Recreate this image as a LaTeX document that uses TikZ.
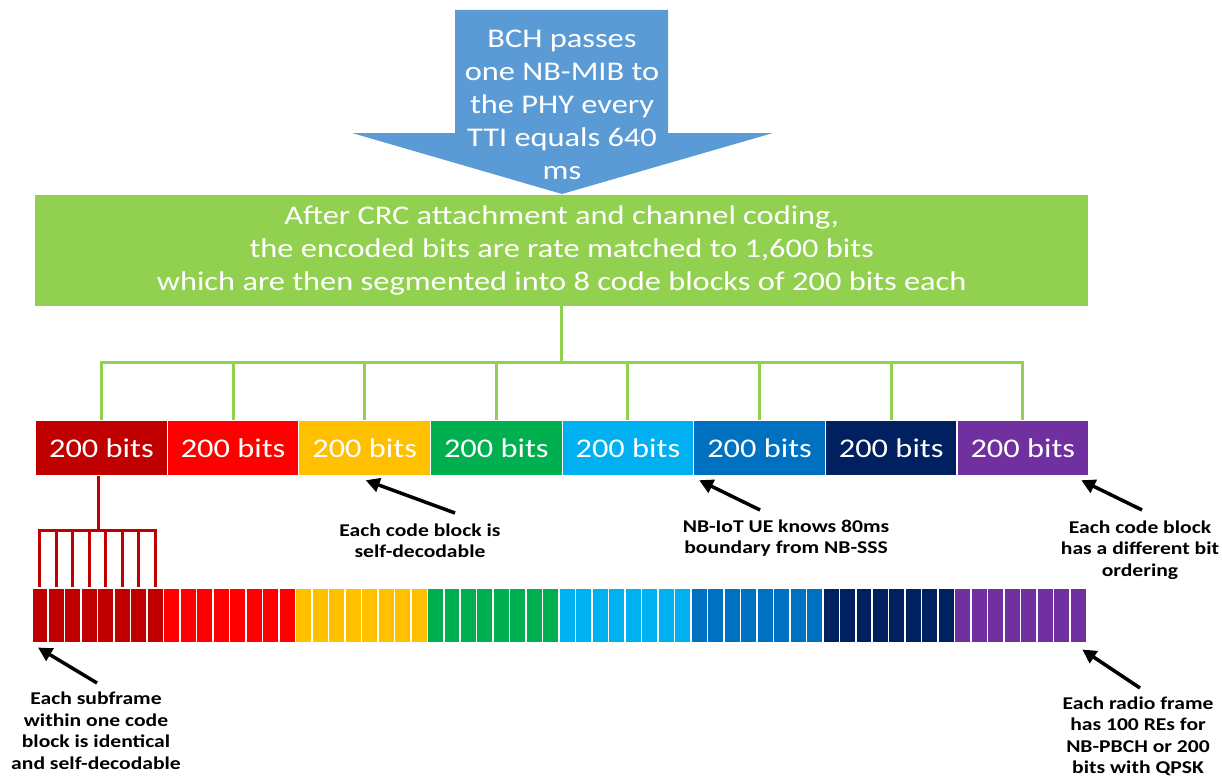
\documentclass[tikz,border=0pt]{standalone}
\usepackage{fontspec}
\setmainfont{Carlito}
\newfontfamily\boxfont{Carlito}[FakeStretch=1.2]
\newfontfamily\notefont{Carlito}[FakeStretch=1.2]
\usetikzlibrary{arrows.meta,calc}

\definecolor{cbA}{HTML}{C00000}
\definecolor{cbB}{HTML}{FF0000}
\definecolor{cbC}{HTML}{FFC000}
\definecolor{cbD}{HTML}{00B050}
\definecolor{cbE}{HTML}{00B0F0}
\definecolor{cbF}{HTML}{0070C0}
\definecolor{cbG}{HTML}{002060}
\definecolor{cbH}{HTML}{7030A0}
\definecolor{mibgreen}{HTML}{92D050}
\definecolor{mibblue}{HTML}{5B9BD5}

\tikzset{
  whitetext/.style={text=white, font=\boxfont\fontsize{27}{33}\selectfont},
  block/.style={whitetext, minimum width=131.625pt, minimum height=55pt,
    inner sep=0pt, draw=white, line width=1.2pt, anchor=north west},
  cell/.style={minimum width=16.48pt, minimum height=55pt, inner sep=0pt,
    draw=white, line width=1.5pt, anchor=north west},
  greenline/.style={draw=mibgreen, line width=3pt},
  redline/.style={draw=cbA, line width=3pt},
  note/.style={align=center, inner sep=0pt, text=black,
    font=\notefont\bfseries\fontsize{18}{21.5}\selectfont},
  pointer/.style={draw=black, line width=3.5pt, -{Triangle[length=14pt,width=14pt]}},
}

\begin{document}
\begin{tikzpicture}[x=1pt, y=-1pt]
\useasboundingbox (0,0) rectangle (1222,776);

% coding chain box
\node[whitetext, fill=mibgreen, minimum width=1053pt, minimum height=111pt,
      inner sep=0pt, anchor=north west, align=center] (gbox) at (35,195)
  {After CRC attachment and channel coding,\\
   the encoded bits are rate matched to 1,600 bits\\
   which are then segmented into 8 code blocks of 200 bits each};

% BCH block arrow
\fill[mibblue] (455,10) -- (668,10) -- (668,133) -- (773,133) -- (562,194)
  -- (352,133) -- (455,133) -- cycle;
\node[whitetext, align=center, inner sep=0pt] (bch) at (562,105)
  {BCH passes\\one NB-MIB to\\the PHY every\\TTI equals 640\\ms};

% eight code blocks
\foreach \i/\col in {1/cbA,2/cbB,3/cbC,4/cbD,5/cbE,6/cbF,7/cbG,8/cbH}
  \node[block, fill=\col] (b\i) at ({35+131.625*(\i-1)},420) {200 bits};

% sixty-four subframes, eight per code block
\foreach \g/\col in {1/cbA,2/cbB,3/cbC,4/cbD,5/cbE,6/cbF,7/cbG,8/cbH}
  \foreach \j in {1,...,8} {
    \pgfmathtruncatemacro\n{(\g-1)*8+\j}
    \node[cell, fill=\col] (c\n) at ({31+16.48*(\n-1)},587) {};
  }

% segmentation tree
\coordinate (hub) at (gbox.south |- 0,362);
\draw[greenline] (gbox.south) -- (hub);
\draw[greenline, line cap=rect] (b1.north |- hub) -- (b8.north |- hub);
\foreach \i in {1,...,8}
  \draw[greenline] (b\i.north |- hub) -- (b\i.north);

% repetition of the first code block over its subframes
\coordinate (rh) at (c4.north east |- 0,530);
\draw[redline] (c4.north east |- b1.south) -- (rh);
\draw[redline, line cap=rect] (c1.north |- rh) -- (c8.north |- rh);
\foreach \n in {1,...,8}
  \draw[redline] (c\n.north |- rh) -- (c\n.north);

% annotations
\node[note] (n1) at (420,540.5) {Each code block is\\self-decodable};
\node[note] (n2) at (786,538) {NB-IoT UE knows 80ms\\boundary from NB-SSS};
\node[note] (n3) at (1140,550) {Each code block\\has a different bit\\ordering};
\node[note] (n4) at (96,730.5) {Each subframe\\within one code\\block is identical\\and self-decodable};
\node[note] (n5) at (1138,736.5) {Each radio frame\\has 100 REs for\\NB-PBCH or 200\\bits with QPSK};

\coordinate (t1) at (455,513);
\coordinate (t2) at (760,510);
\coordinate (t3) at (1142,510);
\coordinate (t4) at (97,683);
\coordinate (t5) at (1140,688);

\draw[pointer] (t1) -- ([xshift=1pt,yshift=-4pt]b3.south);
\draw[pointer] (t2) -- ([xshift=6pt,yshift=-4pt]b6.south west);
\draw[pointer] (t3) -- ([xshift=-8pt,yshift=-4pt]b8.south east);
\draw[pointer] (t4) -- ([xshift=-2pt,yshift=-4pt]c1.south);
\draw[pointer] (t5) -- ([xshift=4pt,yshift=-6pt]c64.south);
\end{tikzpicture}
\end{document}
